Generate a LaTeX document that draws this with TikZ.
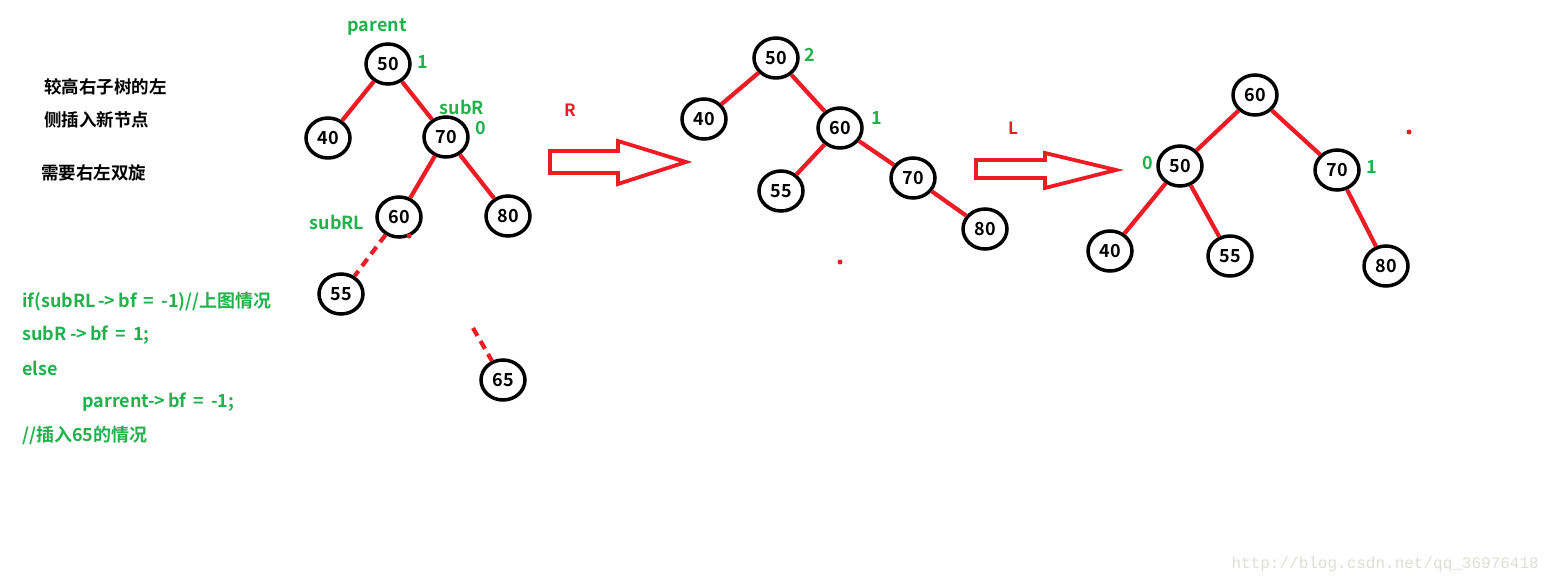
\documentclass[tikz,border=0pt]{standalone}
\usepackage{fontspec}
\setmainfont{Noto Sans CJK SC}[BoldFont={Noto Sans CJK SC Bold}]
\newfontfamily\wmfont{Liberation Mono}
\usetikzlibrary{shapes.geometric}
\definecolor{pred}{RGB}{237,28,36}
\definecolor{pgreen}{RGB}{34,177,76}
\definecolor{wmgray}{RGB}{222,222,216}
\tikzset{
  tn/.style={ellipse,draw=black,line width=3.5pt,minimum width=44pt,minimum height=40pt,inner sep=0pt,font=\fontsize{18}{18}\selectfont\bfseries},
  edge/.style={draw=pred,line width=4.2pt},
  dedge/.style={draw=pred,line width=4.2pt,dash pattern=on 9pt off 6pt},
  glab/.style={text=pgreen,font=\fontsize{18}{18}\selectfont\bfseries,inner sep=0pt},
  rlab/.style={text=pred,font=\fontsize{17}{17}\selectfont\bfseries,inner sep=0pt},
  blab/.style={text=black,font=\fontsize{17.5}{17.5}\selectfont\bfseries,inner sep=0pt,anchor=west},
  code/.style={text=pgreen,font=\fontsize{18}{18}\selectfont\bfseries,inner sep=0pt,anchor=west},
  bigarrow/.style={draw=pred,line width=3.8pt,line join=miter},
  rdot/.style={circle,fill=pred,inner sep=0pt,minimum size=5pt}
}
\begin{document}
\begin{tikzpicture}[x=1pt,y=-1pt]
\useasboundingbox[fill=white] (0,0) rectangle (1550,584);
% left text
\node[blab] (t1) at (44,87) {较高右子树的左};
\node[blab] (t2) at (44,120) {侧插入新节点};
\node[blab] (t3) at (41,173) {需要右左双旋};
% code
\node[code] (c1) at (22,302) {if(subRL\,-\kern-0.5pt>\,bf\, = \,-1)//上图情况};
\node[code] (c2) at (22,335) {subR -\kern-0.5pt>\,bf\, = \,1;};
\node[code] (c3) at (22,368) {else};
\node[code] (c4) at (82,402) {parrent-\kern-0.5pt>\,bf\, = \,-1;};
\node[code] (c5) at (22,435) {//插入65的情况};
% left tree
\node[tn] (a50) at (388,64) {50};
\node[tn] (a40) at (328,138) {40};
\node[tn] (a70) at (446,137) {70};
\node[tn] (a60) at (399,217) {60};
\node[tn] (a80) at (508,216) {80};
\node[tn] (a55) at (341,294) {55};
\node[tn] (a65) at (503,380) {65};
\node[glab] (lp) at (377,27) {parent};
\node[glab] (l1) at (423,62) {1};
\node[glab] (lsr) at (462,107) {subR};
\node[glab] (l0) at (481,128) {0};
\node[glab] (lsrl) at (337,222) {subRL};
\draw[edge] (a50) -- (a40);
\draw[edge] (a50) -- (a70);
\draw[edge] (a70) -- (a60);
\draw[edge] (a70) -- (a80);
\draw[dedge] (a60) -- (a55);
\coordinate (d65) at (473,328);
\draw[dedge] (d65) -- (a65);
\node[rdot] (dot1) at (409,236) {};
% arrow R
\draw[bigarrow] (550,151) -- (618,151) -- (618,141) -- (686,162) -- (618,184) -- (618,173) -- (550,173) -- cycle;
\node[rlab] (lr) at (570,110) {R};
% middle tree
\node[tn] (b50) at (776,58) {50};
\node[tn] (b40) at (704,119) {40};
\node[tn] (b60) at (840,128) {60};
\node[tn] (b55) at (781,191) {55};
\node[tn] (b70) at (913,178) {70};
\node[tn] (b80) at (985,229) {80};
\node[glab] (m2) at (810,55) {2};
\node[glab] (m1) at (877,118) {1};
\draw[edge] (b50) -- (b40);
\draw[edge] (b50) -- (b60);
\draw[edge] (b60) -- (b55);
\draw[edge] (b60) -- (b70);
\draw[edge] (b70) -- (b80);
\node[rdot] (dot2) at (840,262) {};
% arrow L
\draw[bigarrow] (976,160) -- (1045,160) -- (1045,153) -- (1116,170) -- (1045,188) -- (1045,178) -- (976,178) -- cycle;
\node[rlab] (ll) at (1013,128) {L};
% right tree
\node[tn] (c60) at (1255,95) {60};
\node[tn] (c50) at (1180,166) {50};
\node[tn] (c70) at (1337,170) {70};
\node[tn] (c40) at (1110,251) {40};
\node[tn] (c55) at (1230,256) {55};
\node[tn] (c80) at (1386,266) {80};
\node[glab] (r0) at (1148,163) {0};
\node[glab] (r1) at (1372,167) {1};
\draw[edge] (c60) -- (c50);
\draw[edge] (c60) -- (c70);
\draw[edge] (c50) -- (c40);
\draw[edge] (c50) -- (c55);
\draw[edge] (c70) -- (c80);
\node[rdot] (dot3) at (1409,132) {};
% watermark
\node[text=wmgray,font=\wmfont\fontsize{16}{16}\selectfont,anchor=east,inner sep=0pt] (wm) at (1539,564) {http://blog.csdn.net/qq\_36976418};
\end{tikzpicture}
\end{document}
